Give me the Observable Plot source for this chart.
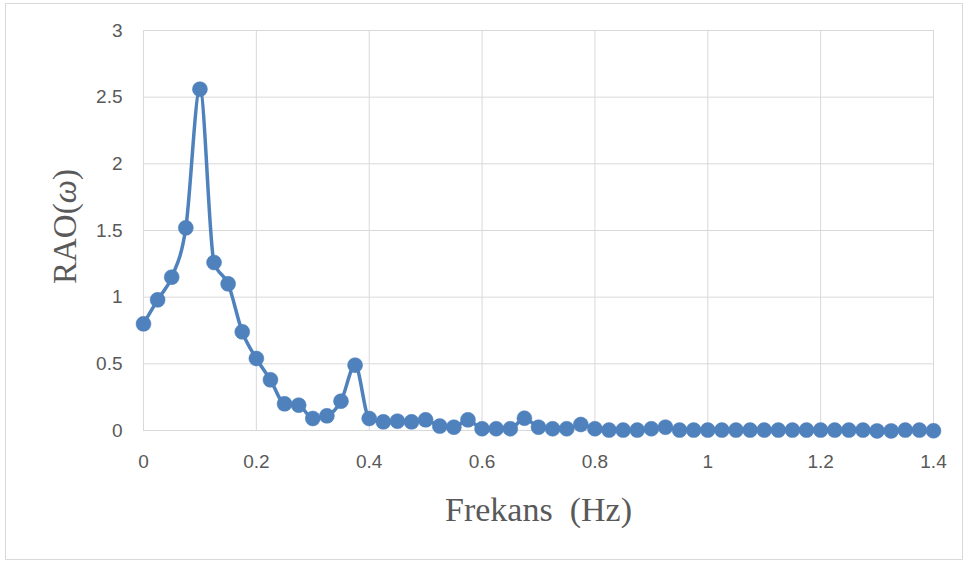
<!DOCTYPE html>
<html>
<head>
<meta charset="utf-8">
<script src="https://cdn.jsdelivr.net/npm/d3@7"></script>
<script src="https://cdn.jsdelivr.net/npm/@observablehq/plot@0.6"></script>
<style>
  html, body { margin: 0; padding: 0; background: #fff; }
  #wrap { position: relative; width: 965px; height: 565px; }
  #border { position: absolute; left: 5px; top: 3px; width: 956px; height: 555px; border: 1px solid #d9d9d9; pointer-events: none; }
  #chart { position: absolute; left: 0; top: 0; }
</style>
</head>
<body>
<div id="wrap"><div id="chart"></div><div id="border"></div></div>
<script>
const frequency = [0,0.025,0.05,0.075,0.1,0.125,0.15,0.175,0.2,0.225,0.25,0.275,0.3,0.325,0.35,0.375,0.4,0.425,0.45,0.475,0.5,0.525,0.55,0.575,0.6,0.625,0.65,0.675,0.7,0.725,0.75,0.775,0.8,0.825,0.85,0.875,0.9,0.925,0.95,0.975,1,1.025,1.05,1.075,1.1,1.125,1.15,1.175,1.2,1.225,1.25,1.275,1.3,1.325,1.35,1.375,1.4];
const rao = [0.80,0.98,1.15,1.52,2.56,1.26,1.10,0.74,0.54,0.38,0.20,0.19,0.09,0.11,0.22,0.49,0.09,0.065,0.07,0.065,0.08,0.033,0.025,0.08,0.013,0.013,0.013,0.092,0.025,0.013,0.013,0.045,0.013,0.003,0.003,0.003,0.013,0.025,0.003,0.003,0.003,0.003,0.003,0.003,0.003,0.003,0.003,0.003,0.003,0.003,0.003,0.003,-0.003,-0.003,0.003,0.003,-0.002];
const xTicks = [0,0.2,0.4,0.6,0.8,1,1.2,1.4];
const yTicks = [0,0.5,1,1.5,2,2.5,3];
const xLabel = "Frekans  (Hz)";
const yLabel = "RAO(ω)";

const data = frequency.map((f, i) => ({f, v: rao[i]}));
const tickFmt = d => String(d);
const blue = "#4f81bd";

const chart = Plot.plot({
  width: 965,
  height: 565,
  marginLeft: 143,
  marginRight: 32,
  marginTop: 30,
  marginBottom: 135,
  style: {background: "transparent", overflow: "visible", fontSize: "18px"},
  x: {domain: [0, 1.4]},
  y: {domain: [0, 3]},
  marks: [
    Plot.gridX(xTicks, {stroke: "#d9d9d9", strokeOpacity: 1, strokeWidth: 1}),
    Plot.gridY(yTicks, {stroke: "#d9d9d9", strokeOpacity: 1, strokeWidth: 1}),
    Plot.axisX(xTicks, {tickSize: 0, tickPadding: 24, tickFormat: tickFmt, fontSize: 19, fontFamily: "Liberation Sans", fill: "#595959", label: null}),
    Plot.axisY(yTicks, {tickSize: 0, tickPadding: 21, tickFormat: tickFmt, fontSize: 19, fontFamily: "Liberation Sans", fill: "#595959", label: null}),
    Plot.line(data, {x: "f", y: "v", stroke: blue, strokeWidth: 3.5, curve: "monotone-x"}),
    Plot.dot(data, {x: "f", y: "v", r: 7.5, fill: blue, stroke: blue, strokeWidth: 0.5}),
    Plot.text([xLabel], {frameAnchor: "bottom", dy: 80, text: d => d, fontSize: 34, fontFamily: "Liberation Serif", fill: "#595959", lineAnchor: "middle"}),
    Plot.text([yLabel], {frameAnchor: "left", dx: -78, dy: -4, rotate: -90, text: d => d, fontSize: 33, fontFamily: "Liberation Serif", fill: "#595959", lineAnchor: "middle", textAnchor: "middle", className: "ylab"})
  ]
});
document.getElementById("chart").appendChild(chart);

// italicize omega in the y label
const yt = chart.querySelector(".ylab text");
if (yt) {
  const s = yt.textContent;
  const i = s.indexOf("ω");
  if (i >= 0) {
    yt.textContent = "";
    yt.setAttribute("text-anchor", "middle");
    const ns = "http://www.w3.org/2000/svg";
    const parts = [s.slice(0, i), "ω", s.slice(i + 1)];
    parts.forEach((p, k) => {
      const ts = document.createElementNS(ns, "tspan");
      ts.textContent = p;
      if (k === 1) ts.setAttribute("font-style", "italic");
      yt.appendChild(ts);
    });
  }
}
</script>
</body>
</html>
